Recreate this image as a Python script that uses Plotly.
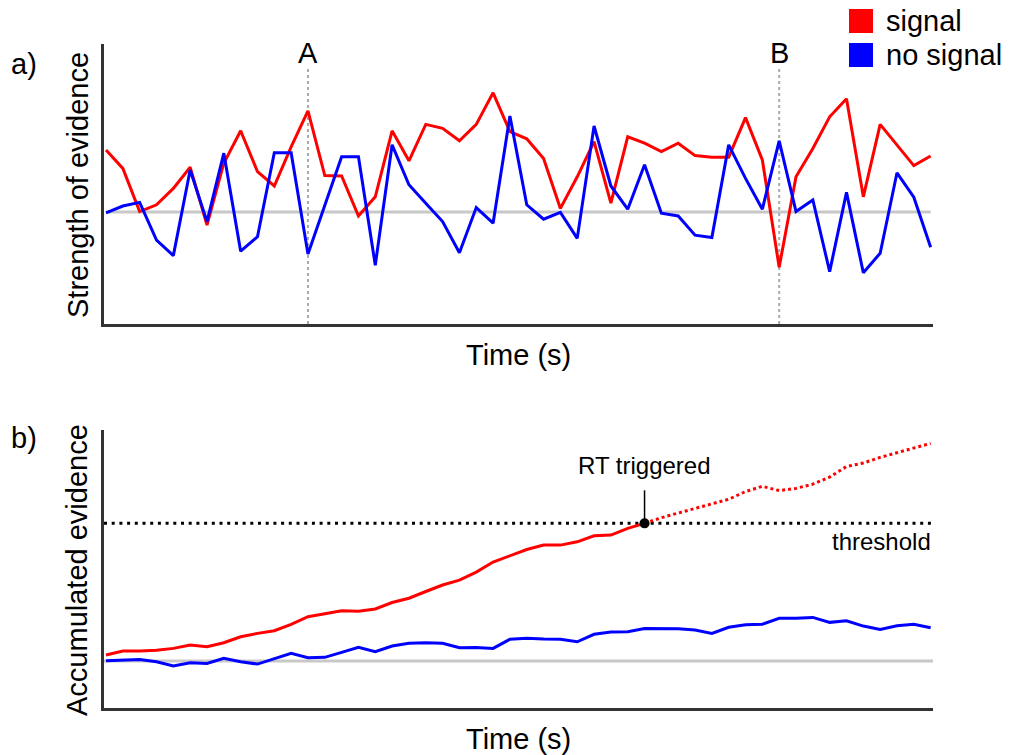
import numpy as np
import plotly.graph_objects as go

# ---- data -------------------------------------------------------------
time_steps = list(range(50))

# instantaneous evidence (panel a)
signal_evidence = [1.55, 1.09, 0.01, 0.18, 0.59, 1.12, -0.33, 1.22, 2.03, 1.01,
                   0.65, 1.63, 2.53, 0.91, 0.90, -0.10, 0.38, 2.03, 1.28, 2.19,
                   2.09, 1.78, 2.19, 2.98, 2.01, 1.83, 1.34, 0.09, 0.88, 1.76,
                   0.22, 1.88, 1.72, 1.51, 1.72, 1.41, 1.37, 1.37, 2.36, 1.30,
                   -1.38, 0.88, 1.59, 2.38, 2.83, 0.38, 2.19, 1.68, 1.16, 1.40]
nosignal_evidence = [-0.02, 0.15, 0.24, -0.70, -1.09, 1.05, -0.24, 1.47, -0.98, -0.62,
                     1.48, 1.48, -1.05, 0.15, 1.38, 1.38, -1.33, 1.68, 0.68, 0.22,
                     -0.24, -1.02, 0.11, -0.28, 2.40, 0.18, -0.18, -0.01, -0.66, 2.15,
                     0.65, 0.07, 1.18, -0.03, -0.10, -0.58, -0.64, 1.68, 0.84, 0.07,
                     1.78, 0.01, 0.30, -1.49, 0.49, -1.52, -1.03, 0.98, 0.37, -0.88]

# accumulated evidence (panel b)
signal_accum = [0.44, 0.73, 0.73, 0.78, 0.92, 1.16, 1.04, 1.33, 1.76, 2.01,
                2.20, 2.67, 3.22, 3.46, 3.65, 3.61, 3.78, 4.25, 4.56, 5.05,
                5.52, 5.88, 6.46, 7.19, 7.63, 8.10, 8.42, 8.42, 8.66, 9.10,
                9.15, 9.64, 10.00, 10.41, 10.75, 11.09, 11.40, 11.75, 12.31, 12.69,
                12.38, 12.54, 12.85, 13.36, 14.13, 14.38, 14.79, 15.13, 15.42, 15.81]
nosignal_accum = [0.02, 0.07, 0.12, -0.05, -0.36, -0.12, -0.17, 0.20, -0.05, -0.22,
                  0.15, 0.56, 0.24, 0.27, 0.63, 0.99, 0.68, 1.09, 1.29, 1.33,
                  1.29, 0.97, 0.99, 0.92, 1.58, 1.65, 1.60, 1.58, 1.40, 1.94,
                  2.11, 2.13, 2.37, 2.37, 2.35, 2.25, 2.01, 2.45, 2.64, 2.67,
                  3.10, 3.10, 3.17, 2.81, 2.93, 2.54, 2.30, 2.56, 2.67, 2.42]

threshold = 10.0
marker_times = {"A": 12, "B": 40}
legend_labels = ["signal", "no signal"]

RED = "#ff0000"
BLUE = "#0000ff"
AXIS = "#333333"
FONT = "Liberation Sans, Arial, sans-serif"

W, H = 1010, 755


def px(x):
    return x / W


def py(y):
    return 1 - y / H


# first step at which the signal accumulator reaches the threshold
trigger = int(np.argmax(np.array(signal_accum) >= threshold))

fig = go.Figure()

# ---- panel a ----------------------------------------------------------
fig.add_trace(go.Scatter(x=time_steps, y=signal_evidence, mode="lines",
                         line=dict(color=RED, width=3), xaxis="x", yaxis="y",
                         showlegend=False, hoverinfo="skip"))
fig.add_trace(go.Scatter(x=time_steps, y=nosignal_evidence, mode="lines",
                         line=dict(color=BLUE, width=3), xaxis="x", yaxis="y",
                         showlegend=False, hoverinfo="skip"))

# ---- panel b ----------------------------------------------------------
fig.add_trace(go.Scatter(x=time_steps[:trigger + 1], y=signal_accum[:trigger + 1],
                         mode="lines", line=dict(color=RED, width=3),
                         xaxis="x2", yaxis="y2", showlegend=False, hoverinfo="skip"))
fig.add_trace(go.Scatter(x=time_steps[trigger:], y=signal_accum[trigger:],
                         mode="lines", line=dict(color=RED, width=3, dash="dot"),
                         xaxis="x2", yaxis="y2", showlegend=False, hoverinfo="skip"))
fig.add_trace(go.Scatter(x=time_steps, y=nosignal_accum, mode="lines",
                         line=dict(color=BLUE, width=3),
                         xaxis="x2", yaxis="y2", showlegend=False, hoverinfo="skip"))
fig.add_trace(go.Scatter(x=[time_steps[trigger]], y=[signal_accum[trigger]],
                         mode="markers", marker=dict(color="black", size=10),
                         xaxis="x2", yaxis="y2", showlegend=False, hoverinfo="skip"))

shapes = []
# zero reference lines
shapes.append(dict(type="line", xref="x", yref="y", x0=0, x1=49, y0=0, y1=0,
                   line=dict(color="#c8c8c8", width=3), layer="below"))
shapes.append(dict(type="line", xref="x2", yref="y2", x0=-0.12, x1=49.14, y0=0, y1=0,
                   line=dict(color="#c8c8c8", width=3), layer="below"))
# threshold
shapes.append(dict(type="line", xref="x2", yref="y2", x0=-0.12, x1=49.14,
                   y0=threshold, y1=threshold,
                   line=dict(color="black", width=3, dash="3px,4.7px"), layer="below"))
# time markers A / B
for t in marker_times.values():
    shapes.append(dict(type="line", xref="x", yref="y", x0=t, x1=t, y0=-2.8, y1=3.6,
                       line=dict(color="#aaaaaa", width=2, dash="dot"), layer="below"))
# pointer from label to trigger point
shapes.append(dict(type="line", xref="x2", yref="y2",
                   x0=time_steps[trigger], x1=time_steps[trigger],
                   y0=signal_accum[trigger], y1=12.4,
                   line=dict(color="black", width=1.5)))
# legend swatches
for i, c in enumerate([RED, BLUE]):
    top = 9 + 34 * i
    shapes.append(dict(type="rect", xref="paper", yref="paper",
                       x0=px(849), x1=px(873), y0=py(top + 24), y1=py(top),
                       fillcolor=c, line=dict(width=0)))

ann = []
font_big = dict(family=FONT, size=29, color="black")
font_small = dict(family=FONT, size=24, color="black")

for lbl, t in marker_times.items():
    ann.append(dict(x=t, y=3.975, xref="x", yref="y", text=lbl, showarrow=False,
                    font=font_big, xanchor="center", yanchor="middle"))
ann.append(dict(x=time_steps[trigger], y=14.2, xref="x2", yref="y2", text="RT triggered",
                showarrow=False, font=font_small, xanchor="center", yanchor="middle"))
ann.append(dict(x=49.14, y=threshold - 1.3, xref="x2", yref="y2", text="threshold",
                showarrow=False, font=font_small, xanchor="right", yanchor="middle"))

for i, lbl in enumerate(legend_labels):
    ann.append(dict(x=px(884), y=py(21 + 34 * i), xref="paper", yref="paper", text=lbl,
                    showarrow=False, font=font_big, xanchor="left", yanchor="middle"))

ann.append(dict(x=px(24), y=py(64), xref="paper", yref="paper", text="a)",
                showarrow=False, font=font_big, xanchor="center", yanchor="middle"))
ann.append(dict(x=px(24), y=py(438), xref="paper", yref="paper", text="b)",
                showarrow=False, font=font_big, xanchor="center", yanchor="middle"))
ann.append(dict(x=px(78), y=py(185), xref="paper", yref="paper",
                text="Strength of evidence", textangle=-90, showarrow=False,
                font=font_big, xanchor="center", yanchor="middle"))
ann.append(dict(x=px(77), y=py(570), xref="paper", yref="paper",
                text="Accumulated evidence", textangle=-90, showarrow=False,
                font=font_big, xanchor="center", yanchor="middle"))
ann.append(dict(x=px(518), y=py(355), xref="paper", yref="paper", text="Time (s)",
                showarrow=False, font=font_big, xanchor="center", yanchor="middle"))
ann.append(dict(x=px(518), y=py(739), xref="paper", yref="paper", text="Time (s)",
                showarrow=False, font=font_big, xanchor="center", yanchor="middle"))

axis_common = dict(showgrid=False, zeroline=False, showticklabels=False, ticks="",
                   showline=True, linecolor=AXIS, linewidth=3, fixedrange=True)

fig.update_layout(
    width=W, height=H,
    margin=dict(l=0, r=0, t=0, b=0),
    paper_bgcolor="white", plot_bgcolor="white",
    xaxis=dict(domain=[px(104), px(933)], range=[-0.12, 49.14], anchor="y", **axis_common),
    yaxis=dict(domain=[py(324), py(44)], range=[-2.8, 4.2], anchor="x", **axis_common),
    xaxis2=dict(domain=[px(104), px(933)], range=[-0.12, 49.14], anchor="y2", **axis_common),
    yaxis2=dict(domain=[py(708), py(430)], range=[-3.41, 16.78], anchor="x2", **axis_common),
    shapes=shapes,
    annotations=ann,
    showlegend=False,
)

fig.write_html("out.html", config={"displayModeBar": False})
